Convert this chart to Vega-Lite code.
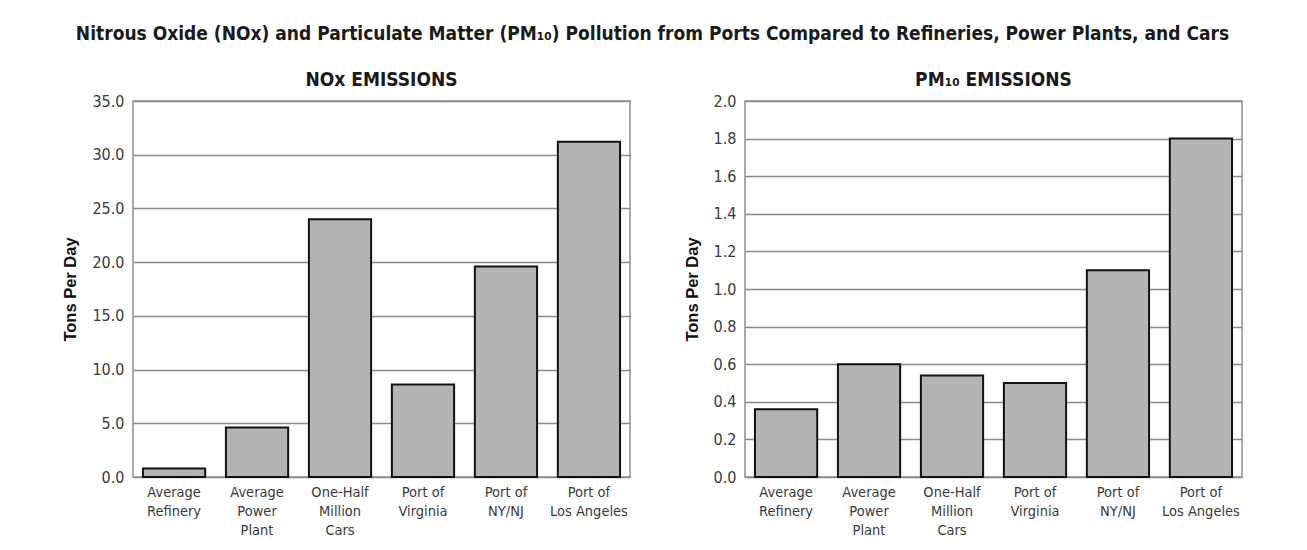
{
  "$schema": "https://vega.github.io/schema/vega-lite/v6.json",
  "background": "white",
  "padding": {"left": 62, "top": 25, "right": 60, "bottom": 5},
  "title": {
    "text": "Nitrous Oxide (NOx) and Particulate Matter (PM₁₀) Pollution from Ports Compared to Refineries, Power Plants, and Cars",
    "fontSize": 19, "font": "Liberation Sans Narrow, DejaVu Sans Condensed, Liberation Sans", "fontWeight": "bold",
    "anchor": "middle", "color": "#1a1a1a", "offset": 26
  },
  "datasets": {
    "nox": [
      {"source": "Average|Refinery", "tons": 0.8},
      {"source": "Average|Power|Plant", "tons": 4.6},
      {"source": "One-Half|Million|Cars", "tons": 24.0},
      {"source": "Port of|Virginia", "tons": 8.6},
      {"source": "Port of|NY/NJ", "tons": 19.6},
      {"source": "Port of|Los Angeles", "tons": 31.2}
    ],
    "pm": [
      {"source": "Average|Refinery", "tons": 0.36},
      {"source": "Average|Power|Plant", "tons": 0.6},
      {"source": "One-Half|Million|Cars", "tons": 0.54},
      {"source": "Port of|Virginia", "tons": 0.5},
      {"source": "Port of|NY/NJ", "tons": 1.1},
      {"source": "Port of|Los Angeles", "tons": 1.8}
    ]
  },
  "spacing": 52,
  "config": {
    "view": {"stroke": "#8f8f8f", "strokeWidth": 1.5},
    "title": {"font": "Liberation Sans Narrow, DejaVu Sans Condensed, Liberation Sans", "fontSize": 19, "fontWeight": "bold", "color": "#1a1a1a"},
    "axis": {
      "labelFont": "Liberation Sans Narrow, DejaVu Sans Condensed, Liberation Sans",
      "labelFontSize": 14.5, "labelColor": "#3a3a3a",
      "titleFont": "Liberation Sans", "titleFontSize": 16.5, "titleFontWeight": "bold", "titleColor": "#111",
      "domain": false, "ticks": false,
      "gridColor": "#8a8a8a", "gridWidth": 1.5, "gridOpacity": 1
    },
    "axisX": {"grid": false, "labelAngle": 0, "labelPadding": 8, "labelLineHeight": 19, "labelBaseline": "top", "labelExpr": "split(datum.label, '|')"},
    "axisY": {"labelFontSize": 16}
  },
  "hconcat": [
    {
      "data": {"name": "nox"},
      "width": 497, "height": 376,
      "title": {"text": "NOx EMISSIONS", "offset": 3},
      "mark": {"type": "bar", "fill": "#b4b4b4", "stroke": "#111", "strokeWidth": 2},
      "encoding": {
        "x": {"field": "source", "type": "nominal", "sort": null, "title": null,
              "scale": {"paddingInner": 0.25, "paddingOuter": 0.12}},
        "y": {"field": "tons", "type": "quantitative", "scale": {"domain": [0, 35]},
              "axis": {"values": [0, 5, 10, 15, 20, 25, 30, 35], "format": ".1f", "title": "Tons Per Day", "titlePadding": 13, "labelPadding": 9}}
      }
    },
    {
      "data": {"name": "pm"},
      "width": 497, "height": 376,
      "title": {"text": "PM₁₀ EMISSIONS", "offset": 3},
      "mark": {"type": "bar", "fill": "#b4b4b4", "stroke": "#111", "strokeWidth": 2},
      "encoding": {
        "x": {"field": "source", "type": "nominal", "sort": null, "title": null,
              "scale": {"paddingInner": 0.25, "paddingOuter": 0.12}},
        "y": {"field": "tons", "type": "quantitative", "scale": {"domain": [0, 2]},
              "axis": {"values": [0, 0.2, 0.4, 0.6, 0.8, 1.0, 1.2, 1.4, 1.6, 1.8, 2.0], "format": ".1f", "title": "Tons Per Day", "titlePadding": 13, "labelPadding": 9}}
      }
    }
  ]
}
